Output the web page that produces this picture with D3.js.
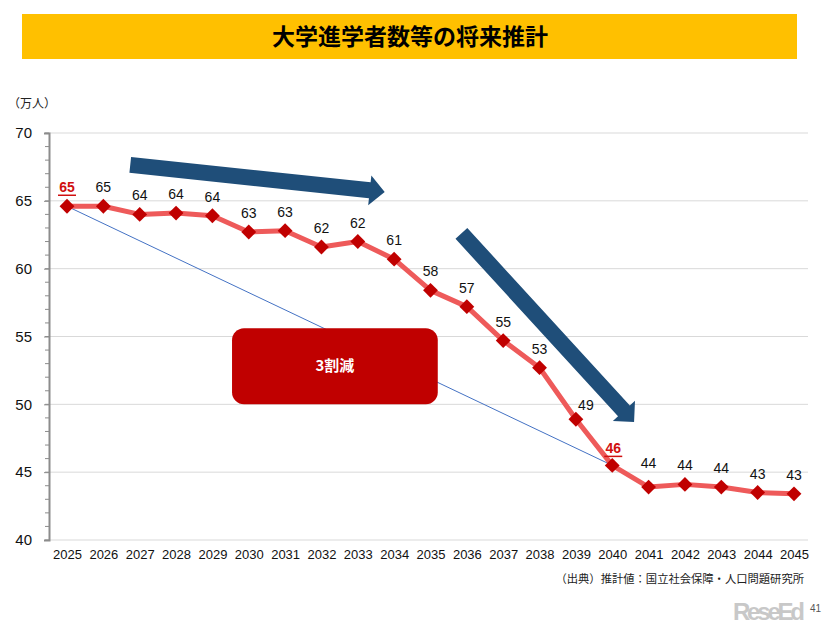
<!DOCTYPE html>
<html>
<head>
<meta charset="utf-8">
<script src="https://cdn.jsdelivr.net/npm/d3@7"></script>
<style>
  body { margin: 0; background: #fff; }
  svg { display: block; }
</style>
</head>
<body>
<svg id="chart" width="826" height="625"></svg>
<script>
// dati
const years = ['2025','2026','2027','2028','2029','2030','2031','2032','2033','2034','2035',
  '2036','2037','2038','2039','2040','2041','2042','2043','2044','2045']
const values = [64.6, 64.6, 64.0, 64.1, 63.9, 62.7, 62.8, 61.6, 62.0, 60.7, 58.4,
  57.2, 54.7, 52.7, 48.9, 45.5, 43.9, 44.1, 43.9, 43.5, 43.4]
const labels = ['65','65','64','64','64','63','63','62','62','61','58',
  '57','55','53','49','46','44','44','44','43','43']
const highlighted = ['2025', '2040']
const yTicks = [40, 45, 50, 55, 60, 65, 70]

const sansJP = '"Noto Sans CJK JP", "Noto Sans", sans-serif'
const sansNum = '"Liberation Sans", Arial, sans-serif'

const svg = d3.select('#chart')

// scale
const x = d3.scalePoint().domain(years).range([67, 794])
const y = d3.scaleLinear().domain([40, 70]).range([540, 133])
// posizione frazionaria sull'asse x (per le annotazioni)
const xf = i => x(years[0]) + i * x.step()

// titolo
svg.append('rect')
  .attr('x', 22).attr('y', 14).attr('width', 775).attr('height', 45)
  .attr('fill', '#FFC000')
svg.append('text')
  .attr('x', 410).attr('y', 45)
  .attr('text-anchor', 'middle')
  .style('font-family', sansJP).style('font-weight', 'bold').style('font-size', '23px')
  .text('大学進学者数等の将来推計')

// unità
svg.append('text')
  .attr('x', 8).attr('y', 108)
  .style('font-family', sansJP).style('font-size', '12px').attr('fill', '#222')
  .text('（万人）')

// griglia
svg.append('g')
  .selectAll('line')
  .data(yTicks)
  .join('line')
  .attr('x1', 49).attr('x2', 808)
  .attr('y1', d => y(d)).attr('y2', d => y(d))
  .attr('stroke', '#d9d9d9').attr('stroke-width', 1)

// asse y
const yAxis = svg.append('g')
  .attr('transform', 'translate(49,0)')
  .call(d3.axisLeft(y).tickValues(yTicks).tickSize(5).tickPadding(12))
yAxis.select('.domain').attr('stroke', '#8c8c8c').attr('stroke-width', 2)
yAxis.selectAll('.tick line').attr('stroke', '#8c8c8c')
yAxis.selectAll('.tick text')
  .style('font-family', sansNum).style('font-size', '15px').attr('fill', '#111')
// tacche minori
svg.append('g')
  .selectAll('line')
  .data(d3.range(40, 71, 1))
  .join('line')
  .attr('x1', 45).attr('x2', 49)
  .attr('y1', d => y(d)).attr('y2', d => y(d))
  .attr('stroke', '#8c8c8c').attr('stroke-width', 1)

// asse x
const xAxis = svg.append('g')
  .attr('transform', 'translate(0,540)')
  .call(d3.axisBottom(x).tickSize(0).tickPadding(10))
xAxis.select('.domain').remove()
xAxis.selectAll('.tick text')
  .style('font-family', sansNum).style('font-size', '13px').attr('fill', '#111')

// linea blu (riferimento del calo)
svg.append('line')
  .attr('x1', x('2025')).attr('y1', y(values[0]))
  .attr('x2', x('2040')).attr('y2', y(values[15]))
  .attr('stroke', '#4472C4').attr('stroke-width', 1)

// frecce
function arrowPath(s, t, sw, hw, hl) {
  const dx = t[0] - s[0], dy = t[1] - s[1]
  const len = Math.hypot(dx, dy)
  const ux = dx / len, uy = dy / len
  const nx = -uy, ny = ux
  const c = [t[0] - ux * hl, t[1] - uy * hl]
  const pts = [
    [s[0] + nx * sw, s[1] + ny * sw],
    [c[0] + nx * sw, c[1] + ny * sw],
    [c[0] + nx * hw, c[1] + ny * hw],
    t,
    [c[0] - nx * hw, c[1] - ny * hw],
    [c[0] - nx * sw, c[1] - ny * sw],
    [s[0] - nx * sw, s[1] - ny * sw]
  ]
  return 'M' + pts.map(p => p.join(',')).join('L') + 'Z'
}
const arrows = [
  { from: [1.74, 67.65], to: [8.74, 65.66] },
  { from: [10.85, 62.6], to: [15.6, 48.7] }
]
svg.append('g')
  .selectAll('path')
  .data(arrows)
  .join('path')
  .attr('d', d => arrowPath([xf(d.from[0]), y(d.from[1])], [xf(d.to[0]), y(d.to[1])], 8, 15, 15))
  .attr('fill', '#1F4E79')

// riquadro "3割減"
svg.append('rect')
  .attr('x', xf(4.54)).attr('y', y(55.6))
  .attr('width', xf(10.2) - xf(4.54)).attr('height', y(50) - y(55.6))
  .attr('rx', 12).attr('fill', '#C00000')
svg.append('text')
  .attr('x', (xf(4.54) + xf(10.2)) / 2).attr('y', (y(55.6) + y(50)) / 2 + 5)
  .attr('text-anchor', 'middle')
  .style('font-family', sansJP).style('font-weight', 'bold').style('font-size', '15px')
  .attr('fill', '#fff')
  .text('3割減')

// linea dati
const data = years.map((yr, i) => ({ year: yr, value: values[i], label: labels[i] }))
svg.append('path')
  .datum(data)
  .attr('d', d3.line().x(d => x(d.year)).y(d => y(d.value)))
  .attr('fill', 'none')
  .attr('stroke', '#EE5A5A').attr('stroke-width', 5)
  .attr('stroke-linejoin', 'round')

// marcatori a rombo
svg.append('g')
  .selectAll('path')
  .data(data)
  .join('path')
  .attr('transform', d => `translate(${x(d.year)},${y(d.value)}) rotate(45)`)
  .attr('d', d3.symbol(d3.symbolSquare, 110))
  .attr('fill', '#C00000')

// etichette
const nudge = { '2039': [10, 5], '2041': [0, -5], '2040': [1, 2] }
const lab = svg.append('g')
  .selectAll('g')
  .data(data)
  .join('g')
  .attr('transform', d => {
    const n = nudge[d.year] || [0, 0]
    return `translate(${x(d.year) + n[0]},${y(d.value) - 14 + n[1]})`
  })
lab.append('text')
  .attr('text-anchor', 'middle')
  .style('font-family', sansNum)
  .style('font-size', '14px')
  .style('font-weight', d => highlighted.includes(d.year) ? 'bold' : 'normal')
  .attr('fill', d => highlighted.includes(d.year) ? '#D01010' : '#111')
  .text(d => d.label)
lab.filter(d => highlighted.includes(d.year))
  .append('line')
  .attr('x1', -9).attr('x2', 9).attr('y1', 3).attr('y2', 3)
  .attr('stroke', '#D01010').attr('stroke-width', 1.5)

// fonte
svg.append('text')
  .attr('x', 804).attr('y', 583)
  .attr('text-anchor', 'end')
  .style('font-family', sansJP).style('font-size', '11.3px').attr('fill', '#222')
  .text('（出典）推計値：国立社会保障・人口問題研究所')

// marchio
svg.append('text')
  .attr('x', 733).attr('y', 620)
  .style('font-family', sansNum).style('font-weight', 'bold').style('font-size', '24px')
  .attr('fill', '#c8c8c8')
  .attr('textLength', 72)
  .text('ReseEd')
svg.append('text')
  .attr('x', 810).attr('y', 612)
  .style('font-family', sansNum).style('font-size', '10px')
  .attr('fill', '#555')
  .text('41')
</script>
</body>
</html>
